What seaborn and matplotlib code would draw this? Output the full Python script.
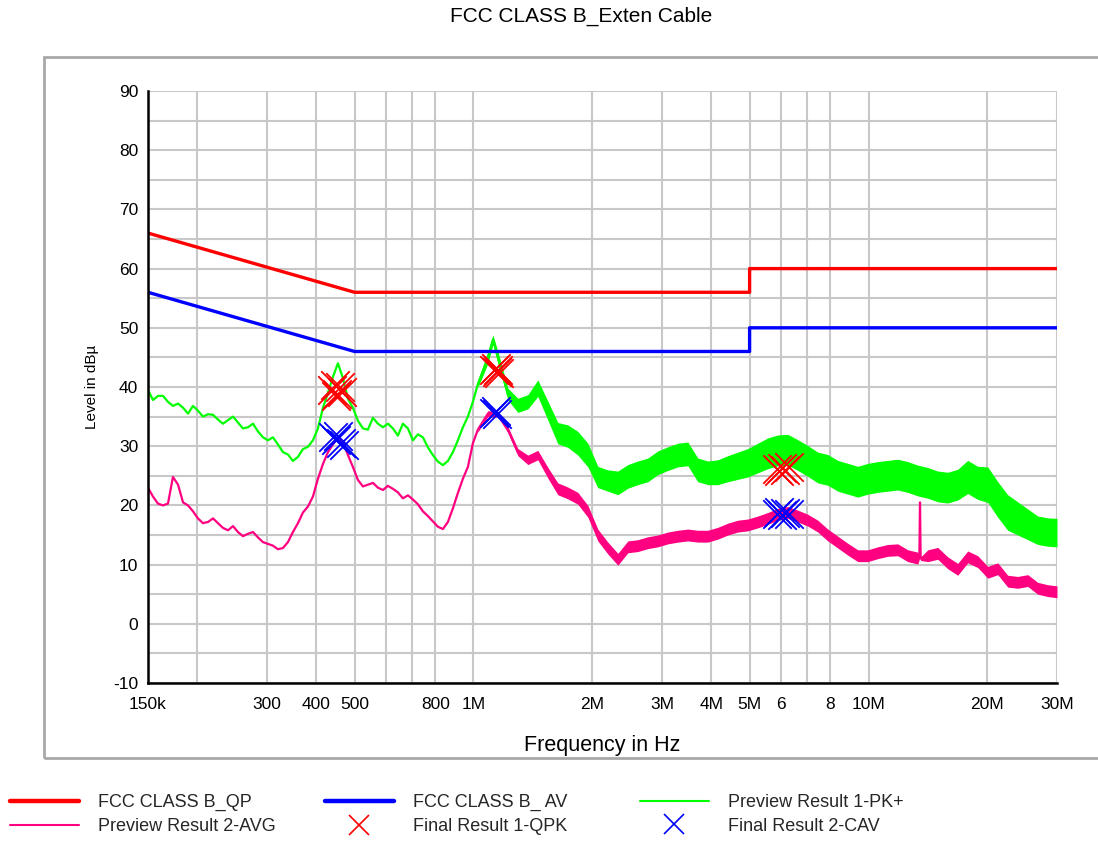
import numpy as np
import pandas as pd
import matplotlib
matplotlib.use('Agg')
import matplotlib.pyplot as plt
import seaborn as sns
from matplotlib.lines import Line2D
from matplotlib.patches import Rectangle
from matplotlib.ticker import FixedLocator, FixedFormatter, NullLocator, MultipleLocator

# limit lines, frequency in MHz, level in dBuV
qp_freq = [0.15, 0.5, 5.0, 5.0, 30.0]
qp_level = [66, 56, 56, 60, 60]
avlim_freq = [0.15, 0.5, 5.0, 5.0, 30.0]
avlim_level = [56, 46, 46, 50, 50]

# Preview Result 1-PK+ (green), thin part below 1 MHz
pk_low_freq = [0.150, 0.1544, 0.159, 0.1637, 0.1685, 0.1735, 0.1787, 0.1840, 0.1894, 0.1950,
               0.2007, 0.2066, 0.2128, 0.2191, 0.2255, 0.2322, 0.2391, 0.2462, 0.2534, 0.2609,
               0.2686, 0.2766, 0.2847, 0.2931, 0.3018, 0.3107, 0.3199, 0.3294, 0.3391, 0.3491,
               0.3595, 0.3701, 0.3810, 0.3923, 0.4039, 0.4159, 0.4281, 0.4408, 0.4538, 0.4672,
               0.4810, 0.4952, 0.5099, 0.5250, 0.5405, 0.5565, 0.5729, 0.5899, 0.6073, 0.6253,
               0.6437, 0.6628, 0.6824, 0.7026, 0.7233, 0.7447, 0.7667, 0.7894, 0.8127, 0.8368,
               0.8615, 0.8870, 0.9132, 0.9402, 0.9680, 0.9966]
pk_low_level = [39.5, 37.8, 38.5, 38.5, 37.5, 36.8, 37.2, 36.5, 35.5, 36.8,
                36.0, 35.0, 35.4, 35.3, 34.5, 33.8, 34.4, 35.0, 34.0, 33.0,
                33.2, 33.8, 32.5, 31.5, 31.0, 31.5, 30.3, 29.0, 28.6, 27.5,
                28.2, 29.5, 29.9, 31.0, 33.0, 36.5, 39.0, 41.7, 44.0, 41.5,
                38.0, 36.5, 34.3, 33.0, 32.8, 34.8, 33.8, 33.2, 33.8, 33.0,
                31.8, 33.8, 33.0, 31.0, 32.0, 31.5, 29.8, 28.5, 27.4, 26.8,
                27.5, 29.0, 31.0, 33.2, 35.0, 37.5]
# noisy band above 1 MHz: centre and half width
pk_high_freq = [1.026, 1.088, 1.120, 1.153, 1.222, 1.295, 1.373, 1.455, 1.543, 1.635,
                1.733, 1.837, 1.948, 2.064, 2.188, 2.320, 2.459, 2.606, 2.763, 2.929,
                3.104, 3.291, 3.488, 3.697, 3.919, 4.155, 4.404, 4.668, 4.948, 5.245,
                5.560, 5.894, 6.247, 6.622, 7.020, 7.441, 7.887, 8.360, 8.862, 9.394,
                9.957, 10.55, 11.19, 11.86, 12.57, 13.33, 14.13, 14.97, 15.87, 16.82,
                17.83, 18.90, 20.04, 21.24, 22.51, 23.86, 25.30, 26.81, 28.42, 30.0]
pk_high_level = [40.5, 45.0, 48.0, 45.0, 38.8, 36.9, 37.5, 39.8, 36.0, 32.2,
                 31.7, 30.5, 28.5, 24.8, 24.2, 23.8, 24.9, 25.5, 26.0, 27.2,
                 27.9, 28.5, 28.7, 26.0, 25.5, 25.6, 26.2, 26.7, 27.2, 28.0,
                 28.8, 29.3, 29.4, 28.5, 27.5, 26.4, 26.0, 25.0, 24.5, 24.0,
                 24.5, 24.8, 25.0, 25.2, 24.8, 24.2, 23.8, 23.2, 23.0, 23.5,
                 24.8, 23.8, 23.5, 21.0, 18.8, 17.8, 16.8, 15.8, 15.5, 15.4]
pk_high_half = [0.6, 1.0, 0.8, 1.0, 1.0, 1.2, 1.2, 1.4, 1.6, 1.8,
                1.9, 2.0, 2.0, 1.8, 1.8, 2.0, 2.0, 2.0, 2.0, 2.0,
                2.0, 2.0, 2.0, 2.0, 2.0, 2.1, 2.2, 2.3, 2.4, 2.5,
                2.6, 2.6, 2.6, 2.6, 2.6, 2.6, 2.6, 2.6, 2.6, 2.6,
                2.6, 2.6, 2.6, 2.6, 2.6, 2.6, 2.6, 2.6, 2.6, 2.6,
                2.8, 2.8, 3.0, 3.0, 3.0, 2.8, 2.6, 2.4, 2.4, 2.4]

# Preview Result 2-AVG (pink)
avg_low_freq = pk_low_freq
avg_low_level = [23.0, 21.5, 20.3, 20.0, 20.3, 24.8, 23.5, 20.5, 20.0, 19.0,
                 17.8, 17.0, 17.2, 17.8, 17.0, 16.2, 15.8, 16.5, 15.5, 14.8,
                 15.2, 15.5, 14.6, 13.8, 13.5, 13.2, 12.6, 12.8, 13.8, 15.5,
                 17.0, 18.8, 19.8, 21.5, 24.5, 27.0, 29.0, 30.3, 31.5, 30.8,
                 28.5, 26.5, 24.3, 23.2, 23.5, 23.8, 23.0, 22.6, 23.3, 22.8,
                 22.2, 21.2, 21.7, 21.0, 20.2, 19.0, 18.2, 17.3, 16.4, 16.0,
                 17.2, 19.5, 22.1, 24.5, 26.5, 30.5]
avg_high_freq = [1.026, 1.088, 1.153, 1.222, 1.295, 1.373, 1.455, 1.543, 1.635, 1.733,
                 1.837, 1.948, 2.064, 2.188, 2.320, 2.459, 2.606, 2.763, 2.929, 3.104,
                 3.291, 3.488, 3.697, 3.919, 4.155, 4.404, 4.668, 4.948, 5.245, 5.560,
                 5.894, 6.247, 6.622, 7.020, 7.441, 7.887, 8.360, 8.862, 9.394, 9.957,
                 10.55, 11.19, 11.86, 12.57, 13.33, 13.45, 13.50, 13.55, 14.13, 14.97,
                 15.87, 16.82, 17.83, 18.90, 20.04, 21.24, 22.51, 23.86, 25.30, 26.81,
                 28.42, 30.0]
avg_high_level = [32.8, 35.5, 35.4, 32.8, 29.0, 27.7, 28.5, 25.5, 22.8, 22.1,
                  21.2, 19.0, 15.0, 12.8, 10.9, 13.0, 13.2, 13.7, 14.0, 14.5,
                  14.8, 15.0, 14.8, 14.8, 15.3, 16.0, 16.5, 16.7, 17.2, 17.8,
                  18.5, 18.8, 18.2, 17.5, 16.5, 15.0, 13.8, 12.6, 11.5, 11.5,
                  12.0, 12.4, 12.5, 11.5, 11.1, 11.2, 20.5, 11.0, 11.5, 11.9,
                  10.3, 9.2, 11.3, 10.5, 8.7, 9.3, 7.2, 7.0, 7.3, 6.0,
                  5.6, 5.4]
avg_high_half = [0.4, 0.5, 0.5, 0.5, 0.6, 0.8, 0.8, 0.9, 1.0, 1.0,
                 1.0, 1.0, 1.0, 1.0, 1.0, 1.0, 1.0, 1.0, 1.0, 1.0,
                 1.0, 1.0, 1.0, 1.0, 1.0, 1.0, 1.0, 1.0, 1.0, 1.0,
                 1.0, 1.0, 1.0, 1.0, 1.0, 1.0, 1.0, 1.0, 1.0, 1.0,
                 1.0, 1.0, 1.0, 1.0, 1.0, 0.3, 0.1, 0.3, 1.0, 1.0,
                 1.0, 1.0, 1.0, 1.0, 1.0, 1.0, 1.0, 1.0, 1.0, 1.0,
                 1.0, 1.0]

# final measurements
qpk_freq = [0.438, 0.445, 0.452, 0.458, 0.465, 0.449, 1.130, 1.140, 1.147, 1.152, 1.160,
            5.85, 5.95, 6.05, 6.15, 6.30]
qpk_level = [39.5, 40.3, 38.8, 40.0, 39.2, 38.4, 42.8, 43.2, 42.5, 42.9, 42.4,
             26.2, 25.8, 26.4, 26.0, 26.5]
cav_freq = [0.440, 0.448, 0.455, 0.462, 0.470, 1.13, 1.14, 1.15, 5.85, 5.95, 6.05, 6.15, 6.30]
cav_level = [31.5, 31.0, 31.8, 30.6, 30.2, 35.6, 35.9, 35.4, 18.6, 18.9, 18.3, 18.8, 18.5]

x_ticks = [0.15, 0.2, 0.3, 0.4, 0.5, 0.6, 0.7, 0.8, 1, 2, 3, 4, 5, 6, 7, 8, 10, 20, 30]
x_labels = ['150k', '', '300', '400', '500', '', '', '800', '1M', '2M', '3M', '4M', '5M',
            '6', '', '8', '10M', '20M', '30M']

RED = '#ff0000'
BLUE = '#0000ff'
GREEN = '#00ff00'
PINK = '#ff0080'

sns.set_theme(style='white')
plt.rcParams['font.family'] = ['Liberation Sans', 'DejaVu Sans']
plt.rcParams['axes.unicode_minus'] = False

W, H = 1098, 841
fig = plt.figure(figsize=(W / 100, H / 100), dpi=100)
ax = fig.add_axes([148 / W, 1 - 683 / H, 909 / W, 592 / H])

MHZ = 1e6
pk_freq = np.array(pk_low_freq + pk_high_freq) * MHZ
pk_level = pk_low_level + pk_high_level
avg_freq = np.array(avg_low_freq + avg_high_freq) * MHZ
avg_level = avg_low_level + avg_high_level

# noisy bands
hf = np.array(pk_high_freq) * MHZ
ax.fill_between(hf, np.array(pk_high_level) - pk_high_half, np.array(pk_high_level) + pk_high_half,
                color=GREEN, lw=0, zorder=2)
hf = np.array(avg_high_freq) * MHZ
ax.fill_between(hf, np.array(avg_high_level) - avg_high_half, np.array(avg_high_level) + avg_high_half,
                color=PINK, lw=0, zorder=2)

sns.lineplot(x=pk_freq, y=pk_level, color=GREEN, lw=1.6, sort=False, estimator=None, ax=ax, zorder=3)
sns.lineplot(x=avg_freq, y=avg_level, color=PINK, lw=1.6, sort=False, estimator=None, ax=ax, zorder=3)
sns.lineplot(x=np.array(qp_freq) * MHZ, y=qp_level, color=RED, lw=2.4, sort=False,
             estimator=None, ax=ax, zorder=4)
sns.lineplot(x=np.array(avlim_freq) * MHZ, y=avlim_level, color=BLUE, lw=2.4, sort=False,
             estimator=None, ax=ax, zorder=4)
sns.scatterplot(x=np.array(qpk_freq) * MHZ, y=qpk_level, marker='x', s=420, color=RED,
                linewidth=1.3, ax=ax, zorder=5)
sns.scatterplot(x=np.array(cav_freq) * MHZ, y=cav_level, marker='x', s=420, color=BLUE,
                linewidth=1.3, ax=ax, zorder=5)

ax.set_xscale('log')
ax.set_xlim(0.15 * MHZ, 30 * MHZ)
ax.set_ylim(-10, 90)
ax.xaxis.set_major_locator(FixedLocator([t * MHZ for t in x_ticks]))
ax.xaxis.set_major_formatter(FixedFormatter(x_labels))
ax.xaxis.set_minor_locator(NullLocator())
ax.yaxis.set_major_locator(MultipleLocator(10))
ax.yaxis.set_minor_locator(MultipleLocator(5))

ax.set_axisbelow(True)
ax.grid(which='both', color='#c8c8c8', lw=1.5)
for side in ['top', 'right']:
    ax.spines[side].set_visible(False)
for side in ['left', 'bottom']:
    ax.spines[side].set_color('black')
    ax.spines[side].set_linewidth(1.8)
    ax.spines[side].set_zorder(6)
ax.tick_params(axis='both', which='both', direction='inout', length=8, width=1.5,
               color='black', labelsize=12.5, labelcolor='black')
ax.tick_params(axis='x', pad=6)
ax.tick_params(axis='y', pad=3)

ax.set_xlabel('Frequency in Hz', fontsize=15.5, color='black')
ax.xaxis.set_label_coords(0.5, -0.087)
ax.set_ylabel('Level in dBµ', fontsize=11, color='black')
ax.yaxis.set_label_coords(-0.054, 0.5)

fig.text(581 / W, 1 - 16 / H, 'FCC CLASS B_Exten Cable', ha='center', va='center',
         fontsize=15, color='black')

# outer frame
fig.patches.append(Rectangle((44 / W, 1 - 758 / H), (1200 - 44) / W, (758 - 57) / H,
                             transform=fig.transFigure, fill=False, edgecolor='#a8a8a8', lw=2))

# legend in three columns
h_qp = Line2D([], [], color=RED, lw=3.2)
h_avg = Line2D([], [], color=PINK, lw=1.5)
h_av = Line2D([], [], color=BLUE, lw=3.2)
h_qpk = Line2D([], [], color=RED, lw=0, marker='x', markersize=14, markeredgewidth=1.2)
h_pk = Line2D([], [], color=GREEN, lw=1.5)
h_cav = Line2D([], [], color=BLUE, lw=0, marker='x', markersize=14, markeredgewidth=1.2)
columns = [(10, [h_qp, h_avg], ['FCC CLASS B_QP', 'Preview Result 2-AVG']),
           (325, [h_av, h_qpk], ['FCC CLASS B_ AV', 'Final Result 1-QPK']),
           (640, [h_pk, h_cav], ['Preview Result 1-PK+', 'Final Result 2-CAV'])]
for x0, hs, labs in columns:
    fig.legend(hs, labs, loc='upper left', bbox_to_anchor=(x0 / W, 1 - 794 / H),
               frameon=False, fontsize=13, handlelength=3.8, handletextpad=1.1,
               borderpad=0, borderaxespad=0, labelspacing=0.37)

fig.savefig('out.png', dpi=100)
